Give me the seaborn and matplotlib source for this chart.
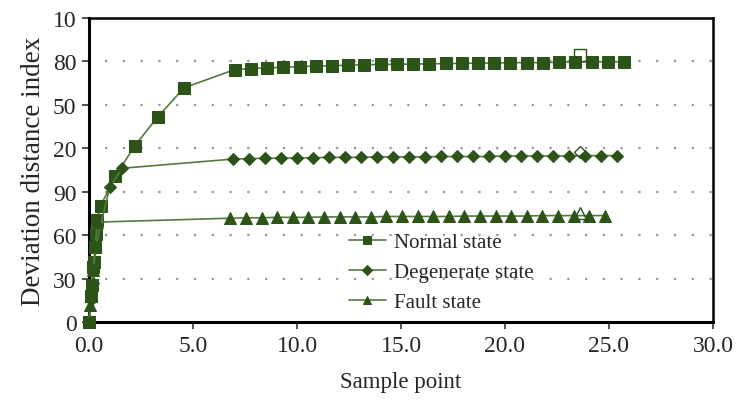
import numpy as np
import pandas as pd
import seaborn as sns
import matplotlib.pyplot as plt

# y values are in tick-slot units (tick labels below are the printed ones)
normal_x = [0.0, 0.1, 0.15, 0.2, 0.25, 0.3, 0.35, 0.38, 0.56, 1.27, 2.19, 3.3, 4.57,
            7.0, 7.78, 8.56, 9.34, 10.12, 10.9, 11.68, 12.46, 13.24, 14.02, 14.8,
            15.58, 16.36, 17.14, 17.92, 18.7, 19.48, 20.26, 21.04, 21.82, 22.6,
            23.38, 24.16, 24.94, 25.72]
normal_y = [0.0, 0.6, 0.85, 1.27, 1.38, 1.73, 2.03, 2.35, 2.68, 3.36, 4.05, 4.72, 5.39,
            5.81, 5.83, 5.85, 5.86, 5.88, 5.89, 5.9, 5.91, 5.92, 5.93, 5.93,
            5.94, 5.94, 5.95, 5.95, 5.96, 5.96, 5.97, 5.97, 5.97, 5.98,
            5.98, 5.99, 5.99, 5.99]

degen_x = [0.0, 0.1, 0.2, 0.25, 0.3, 0.99, 1.6,
           6.9, 7.67, 8.44, 9.21, 9.98, 10.75, 11.52, 12.29, 13.06, 13.83, 14.6,
           15.37, 16.14, 16.91, 17.68, 18.45, 19.22, 19.99, 20.76, 21.53, 22.3,
           23.07, 23.84, 24.61, 25.38]
degen_y = [0.0, 0.5, 0.9, 1.3, 1.7, 3.1, 3.54,
           3.75, 3.76, 3.77, 3.77, 3.78, 3.78, 3.79, 3.79, 3.79, 3.8, 3.8,
           3.8, 3.8, 3.81, 3.81, 3.81, 3.81, 3.82, 3.82, 3.82, 3.82,
           3.82, 3.83, 3.83, 3.83]

fault_x = [0.0, 0.05, 0.1, 0.15, 0.2, 0.3, 0.4,
           6.8, 7.55, 8.3, 9.05, 9.8, 10.55, 11.3, 12.05, 12.8, 13.55, 14.3,
           15.05, 15.8, 16.55, 17.3, 18.05, 18.8, 19.55, 20.3, 21.05, 21.8,
           22.55, 23.3, 24.05, 24.8]
fault_y = [0.0, 0.4, 0.6, 0.85, 1.2, 1.75, 2.3,
           2.39, 2.4, 2.4, 2.41, 2.41, 2.41, 2.42, 2.42, 2.42, 2.42, 2.43,
           2.43, 2.43, 2.43, 2.43, 2.44, 2.44, 2.44, 2.44, 2.44, 2.45,
           2.45, 2.45, 2.45, 2.45]

# hollow markers (square, diamond, triangle)
hollow_x = [23.6, 23.6, 23.6]
hollow_y = [6.15, 3.92, 2.5]

y_ticklabels = ['0', '30', '60', '90', '20', '50', '80', '10']
x_ticks = [0, 5, 10, 15, 20, 25, 30]

green = '#2c5418'
line_green = '#527a3e'

sns.set_theme(style='white')
plt.rcParams['font.family'] = ['Liberation Serif', 'DejaVu Serif']

fig = plt.figure(figsize=(7.37, 4.10), dpi=100)
ax = fig.add_axes([0.1208, 0.212, 0.8466, 0.742])

series = [
    ('Normal state', normal_x, normal_y, 's', 8),
    ('Degenerate state', degen_x, degen_y, 'D', 6),
    ('Fault state', fault_x, fault_y, '^', 8),
]
for name, xs, ys, mk, ms in series:
    df = pd.DataFrame({'x': xs, 'y': ys})
    sns.lineplot(data=df, x='x', y='y', ax=ax, sort=False, color=line_green,
                 linewidth=1.2, marker=mk, markersize=ms, markerfacecolor=green,
                 markeredgecolor=green, label=name, clip_on=False, zorder=3)

for (hx, hy, mk, ms) in zip(hollow_x, hollow_y, ['s', 'D', '^'], [9, 6, 8]):
    ax.plot([hx], [hy], marker=mk, markersize=ms, markerfacecolor='none',
            markeredgecolor=green, markeredgewidth=1.0, linestyle='none', zorder=4)

ax.set_xlim(0, 30)
ax.set_ylim(0, 7)
ax.set_xticks(x_ticks)
ax.set_xticklabels([f'{v:.1f}' for v in x_ticks], fontsize=17)
ax.set_yticks(range(len(y_ticklabels)))
ax.set_yticklabels(y_ticklabels, fontsize=17)
ax.tick_params(axis='both', direction='out', length=5, width=1.2, color='#333333',
               left=True, bottom=True, pad=4)

for y in range(1, 7):
    ax.axhline(y, color='#999999', linestyle=(0, (1, 7)), linewidth=1.6, zorder=1,
               xmin=0.025)

for s in ['left', 'bottom']:
    ax.spines[s].set_linewidth(2.2)
    ax.spines[s].set_color('black')
for s in ['top', 'right']:
    ax.spines[s].set_linewidth(1.8)
    ax.spines[s].set_color('black')

ax.set_xlabel('Sample point', fontsize=16.5, labelpad=11)
ax.set_ylabel('Deviation distance index', fontsize=19.5, labelpad=5)

leg = ax.legend(loc='upper left', bbox_to_anchor=(0.386, 0.355), frameon=False,
                fontsize=15, handlelength=1.8, labelspacing=0.5,
                handletextpad=0.4)
for h, ms in zip(leg.legend_handles, [6, 5, 6]):
    h.set_markersize(ms)

fig.savefig('out.png', dpi=100)
